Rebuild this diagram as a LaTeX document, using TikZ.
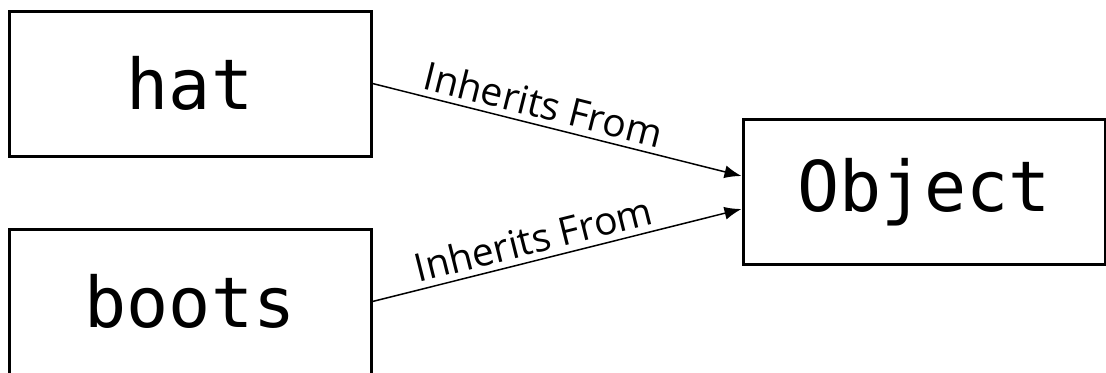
\documentclass[tikz,border=0pt]{standalone}
\usepackage{fontspec}
\setmainfont{Open Sans}
\newfontfamily\codefont{DejaVu Sans Mono}
\usetikzlibrary{arrows.meta}

\begin{document}
\begin{tikzpicture}[x=0.5pt,y=-0.5pt,
		class/.style={draw,line width=1.5pt,minimum width=181pt,minimum height=72.5pt,inner sep=0pt,font=\codefont\fontsize{35}{40}\selectfont},
		inherit/.style={->,line width=0.75pt,>={Latex[length=8.5pt,width=6.5pt]}}]
		\useasboundingbox (0,0) rectangle (1106,372);
		\node[class] (H) at (190,83.5) {hat};
		\node[class] (B) at (190,301.5) {boots};
		\node[class] (O) at (924,192) {Object};
		%
		\path[inherit,font=\fontsize{19.5}{22}\selectfont]
		(H.east) edge node[sloped,above,pos=0.45,inner sep=3pt]{Inherits From} ([yshift=8pt]O.west)
		(B.east) edge node[sloped,above,pos=0.45,inner sep=3pt]{Inherits From} ([yshift=-8.5pt]O.west);
		\end{tikzpicture}
\end{document}
